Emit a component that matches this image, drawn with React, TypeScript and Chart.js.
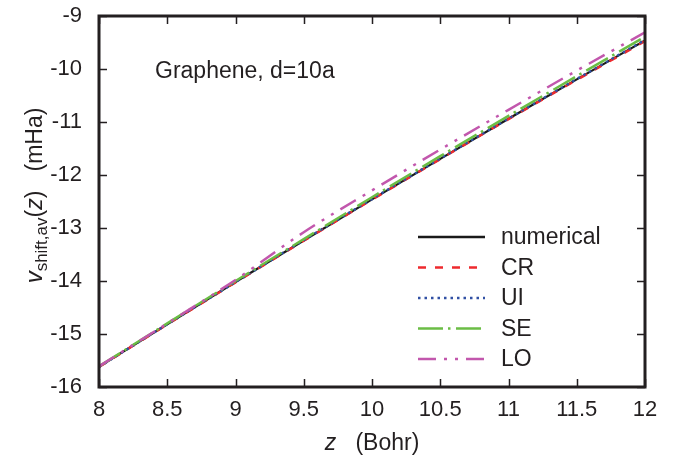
import React, { useEffect, useRef } from "react";
import { Chart, registerables } from "chart.js";

Chart.register(...registerables);

// ---- data ----
const zValues = [8, 8.5, 9, 9.5, 10, 10.5, 11, 11.5, 12];
const numerical = [-15.62, -14.815, -14.02, -13.235, -12.46, -11.695, -10.94, -10.195, -9.46];
const crValues = [-15.62, -14.82, -14.025, -13.24, -12.465, -11.7, -10.945, -10.205, -9.475];
const uiValues = [-15.62, -14.815, -14.02, -13.23, -12.455, -11.69, -10.935, -10.19, -9.45];
const seValues = [-15.61, -14.8, -14.0, -13.21, -12.42, -11.645, -10.885, -10.135, -9.39];
const loValues = [-15.61, -14.8, -13.98, -13.08, -12.29, -11.52, -10.77, -10.03, -9.31];

const seriesNames = ["numerical", "CR", "UI", "SE", "LO"];
const xTickValues = [8, 8.5, 9, 9.5, 10, 10.5, 11, 11.5, 12];
const yTickValues = [-9, -10, -11, -12, -13, -14, -15, -16];
const annotationText = "Graphene, d=10a";

const FONT = '"Liberation Sans", Arial, Helvetica, sans-serif';
const INK = "#231f20";

const styles = [
  { color: "#1a1a1a", dash: [] as number[] },
  { color: "#ee2a2e", dash: [8, 9] },
  { color: "#3150a4", dash: [2.5, 4] },
  { color: "#6bbd45", dash: [25, 5, 2.5, 5.5] },
  { color: "#c257ad", dash: [18, 8, 3, 8, 3, 8] },
];

const toPoints = (ys: number[]) => zValues.map((x, i) => ({ x, y: ys[i] }));

const decorPlugin = {
  id: "decor",
  afterDraw(chart: any) {
    const { ctx, chartArea } = chart;
    const { left, right, top, bottom } = chartArea;
    const xs = chart.scales.x;
    const ys = chart.scales.y;
    ctx.save();
    // inward ticks
    ctx.strokeStyle = INK;
    ctx.lineWidth = 1.5;
    const tl = 8;
    xTickValues.forEach((v) => {
      const px = Math.round(xs.getPixelForValue(v)) + 0.5;
      ctx.beginPath();
      ctx.moveTo(px, bottom);
      ctx.lineTo(px, bottom - tl);
      ctx.moveTo(px, top);
      ctx.lineTo(px, top + tl);
      ctx.stroke();
    });
    yTickValues.forEach((v) => {
      const py = Math.round(ys.getPixelForValue(v)) + 0.5;
      ctx.beginPath();
      ctx.moveTo(left, py);
      ctx.lineTo(left + tl, py);
      ctx.moveTo(right, py);
      ctx.lineTo(right - tl, py);
      ctx.stroke();
    });
    // frame
    ctx.lineWidth = 3;
    ctx.strokeRect(left, top, right - left, bottom - top);

    // annotation
    ctx.fillStyle = INK;
    ctx.font = `23px ${FONT}`;
    ctx.textBaseline = "alphabetic";
    ctx.textAlign = "left";
    ctx.fillText(annotationText, left + 56, top + 62);

    // legend
    const lx0 = left + 319;
    const lx1 = left + 386;
    const ly0 = top + 221;
    const dy = 30.5;
    seriesNames.forEach((name, i) => {
      const y = ly0 + i * dy;
      ctx.save();
      ctx.strokeStyle = styles[i].color;
      ctx.lineWidth = 2.5;
      ctx.setLineDash(styles[i].dash);
      ctx.beginPath();
      ctx.moveTo(lx0, y);
      ctx.lineTo(lx1, y);
      ctx.stroke();
      ctx.restore();
      ctx.fillStyle = INK;
      ctx.font = `23px ${FONT}`;
      ctx.textBaseline = "middle";
      ctx.fillText(name, lx1 + 16, y + 1);
    });

    // x-axis title
    ctx.textBaseline = "alphabetic";
    const xMid = (left + right) / 2;
    ctx.font = `italic 23px ${FONT}`;
    const zW = ctx.measureText("z").width;
    ctx.font = `23px ${FONT}`;
    const restX = "   (Bohr)";
    const rW = ctx.measureText(restX).width;
    const sx = xMid - (zW + rW) / 2;
    const by = bottom + 63;
    ctx.font = `italic 23px ${FONT}`;
    ctx.fillText("z", sx, by);
    ctx.font = `23px ${FONT}`;
    ctx.fillText(restX, sx + zW, by);

    // y-axis title (rotated)
    ctx.save();
    const cx = 42;
    const cy = (top + bottom) / 2 - 6;
    ctx.translate(cx, cy);
    ctx.rotate(-Math.PI / 2);
    const parts = [
      { t: "v", f: `italic 24px ${FONT}`, dy: 0 },
      { t: "shift,av", f: `17px ${FONT}`, dy: 5 },
      { t: "(", f: `23px ${FONT}`, dy: 0 },
      { t: "z", f: `italic 23px ${FONT}`, dy: 0 },
      { t: ")   (mHa)", f: `23px ${FONT}`, dy: 0 },
    ];
    let total = 0;
    parts.forEach((p) => {
      ctx.font = p.f;
      total += ctx.measureText(p.t).width;
    });
    let px = -total / 2;
    parts.forEach((p) => {
      ctx.font = p.f;
      ctx.fillText(p.t, px, p.dy);
      px += ctx.measureText(p.t).width;
    });
    ctx.restore();

    ctx.restore();
  },
};

export default function App() {
  const ref = useRef<HTMLCanvasElement | null>(null);
  useEffect(() => {
    if (!ref.current) return;
    const allSeries = [numerical, crValues, uiValues, seValues, loValues];
    const chart = new Chart(ref.current, {
      type: "line",
      data: {
        datasets: allSeries.map((ys, i) => ({
          label: seriesNames[i],
          data: toPoints(ys),
          borderColor: styles[i].color,
          backgroundColor: styles[i].color,
          borderDash: styles[i].dash,
          borderWidth: i === 0 ? 2.2 : 2.5,
          pointRadius: 0,
          cubicInterpolationMode: "monotone",
          fill: false,
          order: 5 - i,
        })),
      },
      options: {
        responsive: false,
        animation: false,
        events: [],
        layout: { padding: { left: 0, top: 16, right: 32, bottom: 0 } },
        plugins: { legend: { display: false }, tooltip: { enabled: false } },
        scales: {
          x: {
            type: "linear",
            min: 8,
            max: 12,
            afterFit: (s: any) => {
              s.height = 78;
              s.paddingLeft = 0;
              s.paddingRight = 0;
              s.paddingTop = 0;
              s.paddingBottom = 0;
            },
            afterBuildTicks: (s: any) => {
              s.ticks = xTickValues.map((v) => ({ value: v }));
            },
            grid: { display: false, drawTicks: false },
            border: { display: false },
            ticks: {
              padding: 10,
              color: INK,
              font: { family: FONT, size: 22 },
              maxRotation: 0,
              autoSkip: false,
              callback: (v: any) => String(v),
            },
          },
          y: {
            type: "linear",
            min: -16,
            max: -9,
            afterFit: (s: any) => {
              s.width = 99;
              s.paddingLeft = 0;
              s.paddingRight = 0;
              s.paddingTop = 0;
              s.paddingBottom = 0;
            },
            afterBuildTicks: (s: any) => {
              s.ticks = yTickValues.map((v) => ({ value: v }));
            },
            grid: { display: false, drawTicks: false },
            border: { display: false },
            ticks: {
              padding: 17,
              color: INK,
              font: { family: FONT, size: 22 },
              autoSkip: false,
              callback: (v: any) => String(v),
            },
          },
        },
      },
      plugins: [decorPlugin],
    });
    return () => chart.destroy();
  }, []);
  return (
    <div style={{ position: "absolute", left: 0, top: 0, width: 677, height: 465, background: "#fff" }}>
      <canvas ref={ref} width={677} height={465} style={{ width: 677, height: 465, display: "block" }} />
    </div>
  );
}
